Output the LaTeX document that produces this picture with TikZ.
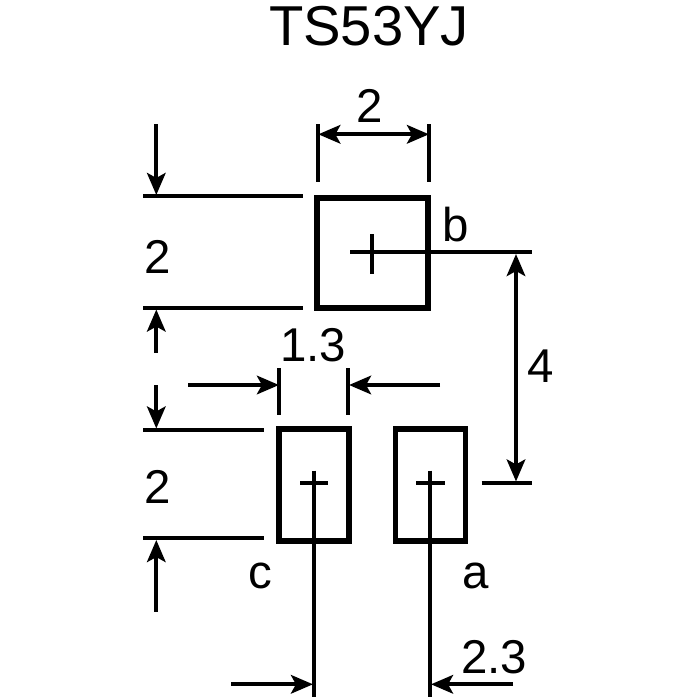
\documentclass[tikz,border=0pt]{standalone}
\usepackage{fontspec}
\setmainfont{Liberation Sans}
\usetikzlibrary{arrows.meta}

\begin{document}
\begin{tikzpicture}[x=0.02cm, y=-0.02cm, >={Stealth[length=12.5pt, width=10.5pt, inset=2.8pt]},
  pad/.style = {rectangle, draw, line width=3.4pt, inner sep=0pt, minimum width=#1},
  pad/.default = 1.4cm,
  dim/.style = {line width=2.4pt},
  lbl/.style = {inner sep=0pt, font=\fontsize{27}{30}\selectfont}]

\useasboundingbox (0,0) rectangle (700,700);

% Title
\node[lbl, font=\fontsize{32}{36}\selectfont] (title) at (369,26) {TS53YJ};

% Pads
\node[pad=2.214cm, minimum height=2.206cm] (padb) at (372.7,252.8) {};
\node[pad, minimum height=2.246cm] (padc) at (314,485.2) {};
\node[pad, minimum height=2.246cm] (pada) at (430.5,485.2) {};

% Crosses and leads
\draw[dim] (372.3,234) -- (372.3,274);
\draw[dim] (350,252.3) -- (531.7,252.3);
\draw[dim] (300,482.7) -- (328.3,482.7);
\draw[dim] (314,470.7) -- (314,696.7);
\draw[dim] (416,482.7) -- (445,482.7);
\draw[dim] (430.3,470.7) -- (430.3,696.7);
\draw[dim] (481.7,482.7) -- (531.7,482.7);

% Extension lines
\draw[dim] (143,196) -- (303,196);
\draw[dim] (143,308) -- (303,308);
\draw[dim] (143,429.7) -- (264,429.7);
\draw[dim] (143,538) -- (264,538);
\draw[dim] (318.3,124) -- (318.3,181.7);
\draw[dim] (429,124) -- (429,181.7);
\draw[dim] (279.3,368.3) -- (279.3,415);
\draw[dim] (348.3,368.3) -- (348.3,415);

% Arrows
\draw[dim,<->] (318.3,134.3) -- (429,134.3);
\draw[dim,<->] (516,254) -- (516,481.5);
\draw[dim,->] (156.3,124) -- (156.3,195);
\draw[dim,->] (156.3,352.7) -- (156.3,309.5);
\draw[dim,->] (156.3,385) -- (156.3,428.5);
\draw[dim,->] (156.3,611.7) -- (156.3,540);
\draw[dim,->] (188.3,385) -- (279,385);
\draw[dim,->] (440,385) -- (349,385);
\draw[dim,->] (231,684.3) -- (313,684.3);
\draw[dim,->] (513,684.3) -- (431,684.3);

% Labels
\node[lbl] (wtop) at (370,106) {2};
\node[lbl] (hb) at (158,257) {2};
\node[lbl] (hc) at (158,487) {2};
\node[lbl] (wc) at (313,345) {1.3};
\node[lbl] (dist) at (541,366) {4};
\node[lbl] (off) at (494,657) {2.3};
\node[lbl] (nb) at (456,225) {b};
\node[lbl] (nc) at (260,576) {c};
\node[lbl] (na) at (476,576) {a};

\end{tikzpicture}
\end{document}
